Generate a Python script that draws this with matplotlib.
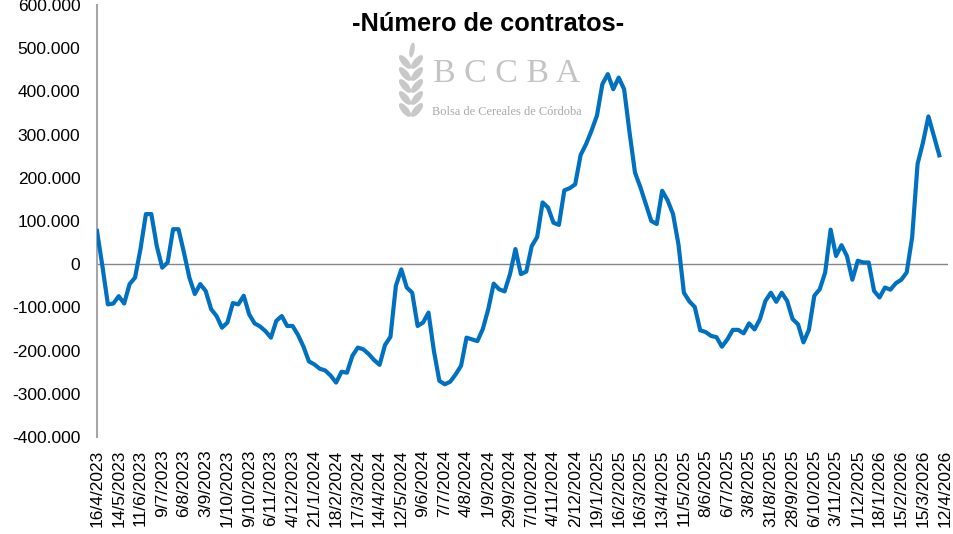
import matplotlib
matplotlib.use("Agg")
import matplotlib.pyplot as plt
from matplotlib.patches import Ellipse
from matplotlib.ticker import FuncFormatter, MultipleLocator

# ----------------------------
# Datos (miles de contratos, semanal desde 16/4/2023)
# ----------------------------
valores_k = [
    77, -5, -93, -91, -74, -91, -46, -31, 35, 116,
    116, 42, -8, 4, 81, 81, 27, -31, -69, -46,
    -62, -104, -120, -147, -135, -90, -93, -73, -116, -137,
    -144, -155, -170, -131, -120, -143, -143, -164, -191, -225,
    -232, -242, -246, -258, -274, -249, -251, -212, -193, -197,
    -208, -222, -233, -187, -168, -50, -12, -54, -66, -143,
    -135, -112, -201, -270, -278, -272, -255, -235, -170, -174,
    -178, -150, -104, -45, -58, -63, -23, 35, -23, -17,
    42, 63, 143, 131, 96, 91, 171, 176, 185, 253,
    278, 309, 344, 417, 440, 405, 432, 405, 305, 212,
    178, 139, 100, 93, 170, 148, 116, 46, -66, -86,
    -99, -153, -157, -166, -169, -191, -174, -152, -152, -160,
    -137, -151, -127, -85, -66, -87, -66, -85, -127, -139,
    -181, -152, -73, -58, -19, 80, 19, 44, 19, -36,
    8, 4, 4, -62, -77, -54, -59, -44, -36, -19,
    62, 232, 282, 342, 297, 252,
]
valores = [v * 1000 for v in valores_k]
semanas = list(range(len(valores)))

# etiquetas tal como se ven (las de 10 caracteres aparecen recortadas)
etiquetas = [
    "16/4/2023", "14/5/2023", "11/6/2023", "9/7/2023", "6/8/2023",
    "3/9/2023", "1/10/2023", "9/10/2023", "6/11/2023", "4/12/2023",
    "21/1/2024", "18/2/2024", "17/3/2024", "14/4/2024", "12/5/2024",
    "9/6/2024", "7/7/2024", "4/8/2024", "1/9/2024", "29/9/2024",
    "7/10/2024", "4/11/2024", "2/12/2024", "19/1/2025", "16/2/2025",
    "16/3/2025", "13/4/2025", "11/5/2025", "8/6/2025", "6/7/2025",
    "3/8/2025", "31/8/2025", "28/9/2025", "6/10/2025", "3/11/2025",
    "1/12/2025", "18/1/2026", "15/2/2026", "15/3/2026", "12/4/2026",
]
pos_etiquetas = [4 * k for k in range(len(etiquetas))]

plt.rcParams["font.family"] = ["Liberation Sans", "DejaVu Sans"]

W, H = 954, 534
fig = plt.figure(figsize=(W / 100, H / 100), dpi=100)
ax = fig.add_axes([97 / W, 1 - 437 / H, (948 - 97) / W, (437 - 5) / H])
ax.set_facecolor("none")

# ----------------------------
# Logo de fondo (BCCBA)
# ----------------------------
gris_logo = "#C8C8C8"
def px(x, y):
    return (x / 100, (H - y) / 100)

for yy in [62, 74, 86, 98, 110]:
    for lado, ang in ((-1, 40), (1, -40)):
        e = Ellipse(px(411 + lado * 6, yy), 0.07, 0.17, angle=ang,
                    transform=fig.dpi_scale_trans, facecolor=gris_logo,
                    edgecolor="none", zorder=0)
        fig.patches.append(e)
fig.patches.append(Ellipse(px(412, 50), 0.05, 0.15, angle=-10,
                           transform=fig.dpi_scale_trans, facecolor=gris_logo,
                           edgecolor="none", zorder=0))
fig.text(507 / W, 1 - 74 / H, "B C C B A", family="Liberation Serif",
         fontsize=24.5, color="#C4C4C4", ha="center", va="center", zorder=0)
fig.text(507 / W, 1 - 112 / H, "Bolsa de Cereales de Córdoba",
         family="Liberation Serif", fontsize=8.9, color="#A8A8A8",
         ha="center", va="center", zorder=0)

# ----------------------------
# Serie
# ----------------------------
ax.plot(semanas, valores, color="#0070C0", linewidth=3, solid_joinstyle="round",
        zorder=3)
ax.axhline(0, color="#868686", linewidth=1, zorder=2)

ax.set_ylim(-400000, 600000)
ax.set_xlim(0, 156.6)
ax.yaxis.set_major_locator(MultipleLocator(100000))
ax.yaxis.set_major_formatter(
    FuncFormatter(lambda v, p: f"{int(round(v)):,}".replace(",", ".")))
ax.set_xticks(pos_etiquetas)
ax.set_xticklabels(etiquetas, rotation=90)

for lado in ("top", "right", "bottom"):
    ax.spines[lado].set_visible(False)
ax.spines["left"].set_color("#A6A6A6")
ax.spines["left"].set_linewidth(1.5)
ax.tick_params(axis="y", length=0, pad=12, labelsize=12.5, labelcolor="#000000")
ax.tick_params(axis="x", length=0, pad=9, labelsize=12.5, labelcolor="#000000")

fig.text(488 / W, 1 - 24 / H, "-Número de contratos-", fontsize=18.3,
         fontweight="bold", ha="center", va="center")

fig.savefig("out.png", dpi=100)
